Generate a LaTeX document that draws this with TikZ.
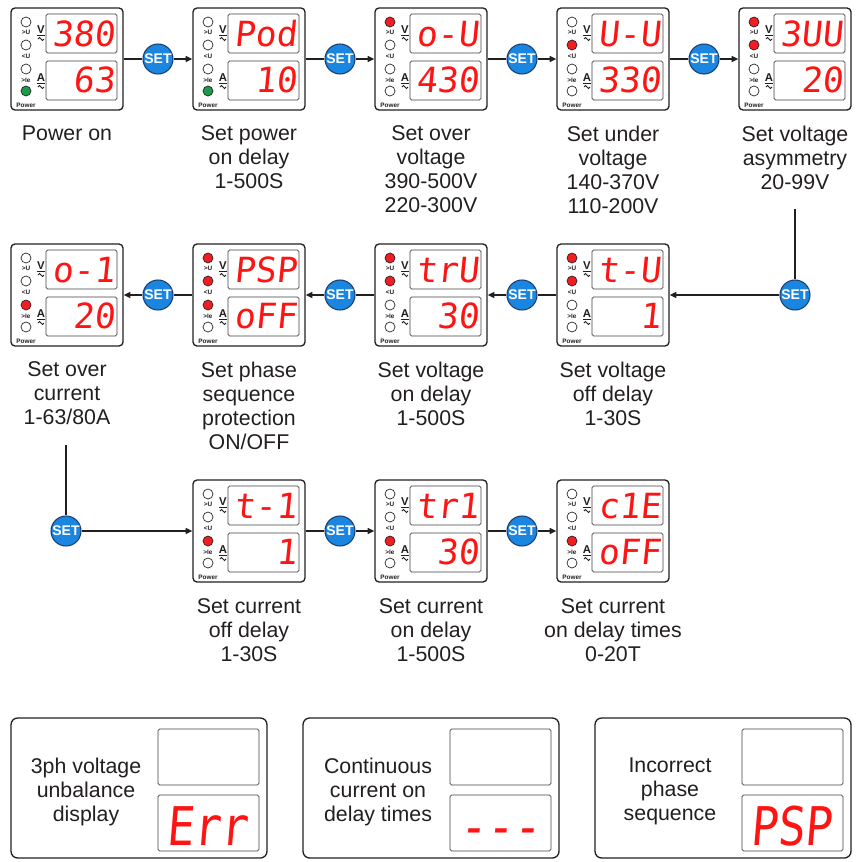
\documentclass[tikz,border=0pt]{standalone}
\usepackage{fontspec}
\usepackage{graphicx}
\setmainfont{Liberation Sans}
\newfontfamily\segfont[FakeSlant=0.1]{DejaVu Sans Mono}
\usetikzlibrary{arrows.meta}
\definecolor{ink}{HTML}{231F20}
\definecolor{segred}{HTML}{FF1414}
\definecolor{ledred}{HTML}{F01E23}
\definecolor{ledgreen}{HTML}{1B9A4B}
\definecolor{setblue}{HTML}{1A86E0}
\definecolor{setedge}{HTML}{1E3E73}
\definecolor{off}{HTML}{FFFFFF}
\tikzset{
  modbox/.style={draw=ink, line width=1pt, rounded corners=3pt, fill=white,
    minimum width=84pt, minimum height=76.5pt, inner sep=0pt},
  panelbox/.style={draw=ink, line width=1pt, rounded corners=5pt, fill=white,
    minimum width=192pt, minimum height=105pt, inner sep=0pt},
  disp/.style={draw=ink!85, line width=0.6pt, rounded corners=1.2pt},
  ledc/.style={draw=ink, line width=0.5pt},
  setnode/.style={circle, draw=setedge, line width=0.8pt, fill=setblue,
    minimum size=22.5pt, inner sep=0pt, text=white,
    font=\fontsize{10.5}{10.5}\selectfont\bfseries},
  conn/.style={draw=ink, line width=0.9pt},
  arr/.style={conn, -{Triangle[length=5pt,width=4.5pt]}},
  lbl/.style={align=center, text=ink, font=\fontsize{16}{18}\selectfont,
    inner sep=0pt, anchor=north},
  seg/.style={text=segred, font=\segfont\fontsize{26}{26}\selectfont,
    inner sep=0pt, anchor=base east},
  bigseg/.style={text=segred, font=\segfont\fontsize{40}{40}\selectfont,
    inner sep=0pt, anchor=base},
  tinylab/.style={font=\fontsize{4.8}{4.8}\selectfont\bfseries, text=ink, inner sep=0pt},
  vlab/.style={font=\fontsize{8.5}{8.5}\selectfont\bfseries, text=ink, inner sep=0pt},
  acsign/.style={draw=ink, line width=0.6pt},
}
% #1 name, #2 cx, #3 cy, #4 top text, #5 bottom text, #6..#9 LED fills
\newcommand\mymod[9]{%
  \node[modbox] (#1) at (#2,#3) {};
  \begin{scope}[shift={(#2-56,#3-51)}]
    \draw[disp] (35,6) rectangle (106,45);
    \draw[disp] (35,53) rectangle (106,92);
    \node[seg] at (104,38) {#4};
    \node[seg] at (104,84) {#5};
    \draw[ledc, fill=#6] (15,14) circle[radius=5];
    \draw[ledc, fill=#7] (15,37) circle[radius=5];
    \draw[ledc, fill=#8] (15,61) circle[radius=5];
    \draw[ledc, fill=#9] (15,83) circle[radius=5];
    \node[tinylab] at (15,24) {>U};
    \node[tinylab] at (15,48) {<U};
    \node[tinylab] at (15,72) {>Ie};
    \node[tinylab] at (15,97) {Power};
    \node[vlab] at (30,23) {\underline{V}};
    \draw[acsign] (27,31) sin (28.5,29.5) cos (30,31) sin (31.5,32.5) cos (33,31);
    \node[vlab] at (30,71) {\underline{A}};
    \draw[acsign] (27,79) sin (28.5,77.5) cos (30,79) sin (31.5,80.5) cos (33,79);
  \end{scope}}
% #1 name, #2 left x, #3 text, #4 bottom display text, #5 x of that text
\newcommand\mypanel[5]{%
  \node[panelbox] (#1) at (#2+128,788) {};
  \draw[disp] (#2+147,729) rectangle (#2+248,785);
  \draw[disp] (#2+147,795) rectangle (#2+248,851);
  \node[lbl] at (#2+75,758) {#3};
  \node[bigseg] at (#2+#5,845) {\scalebox{0.85}[1]{#4}};}
\begin{document}
\begin{tikzpicture}[x=0.75pt, y=-0.75pt]
\useasboundingbox (0,0) rectangle (864,861);
% row 1
\mymod{m1}{67}{59}{380}{63}{off}{off}{off}{ledgreen}
\mymod{m2}{249}{59}{Pod}{10}{off}{off}{off}{ledgreen}
\mymod{m3}{431}{59}{o-U}{430}{ledred}{off}{off}{off}
\mymod{m4}{613}{59}{U-U}{330}{off}{ledred}{off}{off}
\mymod{m5}{795}{59}{3UU}{20}{ledred}{ledred}{off}{off}
% row 2
\mymod{n1}{67}{295}{o-1}{20}{off}{off}{ledred}{off}
\mymod{n2}{249}{295}{PSP}{oFF}{ledred}{ledred}{ledred}{off}
\mymod{n3}{431}{295}{trU}{30}{ledred}{ledred}{off}{off}
\mymod{n4}{613}{295}{t-U}{1}{ledred}{ledred}{off}{off}
% row 3
\mymod{r2}{249}{531}{t-1}{1}{off}{off}{ledred}{off}
\mymod{r3}{431}{531}{tr1}{30}{off}{off}{ledred}{off}
\mymod{r4}{613}{531}{c1E}{oFF}{off}{off}{ledred}{off}
% SET buttons
\node[setnode] (s1) at (158,59) {SET};
\node[setnode] (s2) at (340,59) {SET};
\node[setnode] (s3) at (522,59) {SET};
\node[setnode] (s4) at (704,59) {SET};
\node[setnode] (t4) at (795,295) {SET};
\node[setnode] (t3) at (522,295) {SET};
\node[setnode] (t2) at (340,295) {SET};
\node[setnode] (t1) at (158,295) {SET};
\node[setnode] (u1) at (66,531) {SET};
\node[setnode] (u2) at (340,531) {SET};
\node[setnode] (u3) at (522,531) {SET};
% connectors row 1
\draw[conn] (m1) -- (s1); \draw[arr] (s1) -- (m2);
\draw[conn] (m2) -- (s2); \draw[arr] (s2) -- (m3);
\draw[conn] (m3) -- (s3); \draw[arr] (s3) -- (m4);
\draw[conn] (m4) -- (s4); \draw[arr] (s4) -- (m5);
% row 2
\coordinate (c1) at (795,209);
\draw[conn] (c1) -- (t4); \draw[arr] (t4) -- (n4);
\draw[conn] (n4) -- (t3); \draw[arr] (t3) -- (n3);
\draw[conn] (n3) -- (t2); \draw[arr] (t2) -- (n2);
\draw[conn] (n2) -- (t1); \draw[arr] (t1) -- (n1);
% row 3
\coordinate (c2) at (66,445);
\draw[conn] (c2) -- (u1); \draw[arr] (u1) -- (r2);
\draw[conn] (r2) -- (u2); \draw[arr] (u2) -- (r3);
\draw[conn] (r3) -- (u3); \draw[arr] (u3) -- (r4);
% labels
\node[lbl] at (67,125.5) {Power on};
\node[lbl] at (249,125.5) {Set power\\on delay\\1-500S};
\node[lbl] at (431,125.5) {Set over\\voltage\\390-500V\\220-300V};
\node[lbl] at (613,125.5) {Set under\\voltage\\140-370V\\110-200V};
\node[lbl] at (795,125.5) {Set voltage\\asymmetry\\20-99V};
\node[lbl] at (67,361.5) {Set over\\current\\1-63/80A};
\node[lbl] at (249,361.5) {Set phase\\sequence\\protection\\ON/OFF};
\node[lbl] at (431,361.5) {Set voltage\\on delay\\1-500S};
\node[lbl] at (613,361.5) {Set voltage\\off delay\\1-30S};
\node[lbl] at (249,598.5) {Set current\\off delay\\1-30S};
\node[lbl] at (431,598.5) {Set current\\on delay\\1-500S};
\node[lbl] at (613,598.5) {Set current\\on delay times\\0-20T};
% bottom panels
\mypanel{p1}{11}{3ph voltage\\unbalance\\display}{Err}{196}
\mypanel{p2}{303}{Continuous\\current on\\delay times}{---}{197}
\mypanel{p3}{595}{Incorrect\\phase\\sequence}{PSP}{196}
\end{tikzpicture}
\end{document}
